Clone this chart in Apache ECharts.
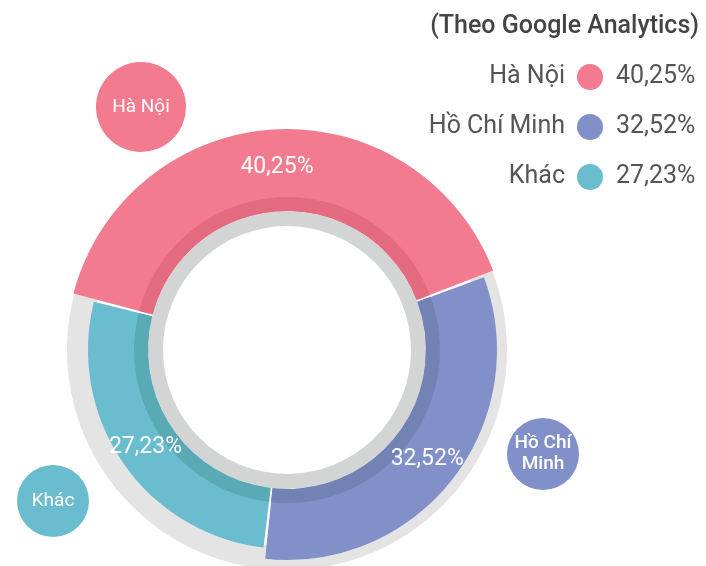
<!DOCTYPE html>
<html>
<head>
<meta charset="utf-8">
<script src="https://cdn.jsdelivr.net/npm/echarts@6/dist/echarts.min.js"></script>
<style>
  html, body { margin: 0; padding: 0; background: #fff; }
  #chart-container { width: 706px; height: 566px; }
</style>
</head>
<body>
<div id="chart-container"></div>
<script>
// data
const regions = ["Hà Nội", "Hồ Chí Minh", "Khác"];
const shares = [40.25, 32.52, 27.23];
const bubbleLabels = ["Hà Nội", "Hồ Chí\nMinh", "Khác"];
const sourceNote = "(Theo Google Analytics)";

// styles / layout
const colors = ["#f27b8f", "#8190c8", "#6abdcf"];
const darkColors = ["#e46a80", "#7282b4", "#59aab5"];
const outerRadius = [221, 210, 199];
const bubblePos = [[141, 107], [543, 454], [53, 501]];
const bubbleSize = [90, 72, 72];
const CENTER = [287, 350];
const START = 165.6;
const PAD = 0.8;
const FONT = "Roboto, sans-serif";

function fmt(v) {
  return v.toFixed(2).replace(".", ",") + "%";
}

function ring(radius, color) {
  return {
    type: "pie",
    silent: true,
    center: CENTER,
    radius: radius,
    label: { show: false },
    labelLine: { show: false },
    data: [{ value: 1, itemStyle: { color: color } }],
  };
}

// one pie per slice so each slice gets its own outer radius
const sliceSeries = regions.map((name, i) => ({
  type: "pie",
  silent: true,
  center: CENTER,
  radius: [139, outerRadius[i]],
  startAngle: START,
  padAngle: PAD,
  avoidLabelOverlap: false,
  labelLine: { show: false },
  data: regions.map((n, j) => ({
    name: n,
    value: shares[j],
    itemStyle: { color: j === i ? colors[j] : "transparent" },
    label: {
      show: j === i,
      position: "inside",
      formatter: (p) => fmt(p.value),
      color: "#fff",
      fontSize: 23,
      fontFamily: FONT,
    },
  })),
}));

// darker inner band, also carries the round name bubbles
const bandSeries = {
  type: "pie",
  silent: true,
  center: CENTER,
  radius: [139, 153],
  startAngle: START,
  padAngle: PAD,
  avoidLabelOverlap: false,
  labelLine: { show: false },
  data: regions.map((n, j) => {
    const lines = bubbleLabels[j].split("\n").length;
    return {
      name: n,
      value: shares[j],
      itemStyle: { color: darkColors[j] },
      label: {
        show: true,
        position: "center",
        formatter: bubbleLabels[j],
        color: "#fff",
        fontSize: 19,
        fontWeight: j === 1 ? 500 : "normal",
        fontFamily: FONT,
        lineHeight: 21,
        width: bubbleSize[j],
        align: "center",
        padding: [(bubbleSize[j] - 21 * lines) / 2, 0],
        backgroundColor: colors[j],
        borderRadius: bubbleSize[j] / 2,
      },
    };
  }),
  labelLayout: (p) => ({
    x: bubblePos[p.dataIndex][0],
    y: bubblePos[p.dataIndex][1],
    align: "center",
    verticalAlign: "middle",
  }),
};

const legendText = { fontSize: 25, color: "#555", fontFamily: FONT };

const chart = echarts.init(document.getElementById("chart-container"));
chart.setOption({
  animation: false,
  title: {
    text: sourceNote,
    right: 7,
    top: 14,
    padding: 0,
    textStyle: { fontSize: 25, fontWeight: 500, color: "#444", fontFamily: FONT },
  },
  legend: [
    {
      orient: "vertical",
      right: 103,
      top: 64,
      padding: 0,
      align: "right",
      icon: "circle",
      itemWidth: 40,
      itemHeight: 26,
      itemGap: 24,
      selectedMode: false,
      textStyle: legendText,
      data: regions.map((n, i) => ({ name: n, itemStyle: { color: colors[i] } })),
    },
    {
      // values column, icon kept invisible so rows match the first legend
      orient: "vertical",
      left: 585,
      top: 64,
      padding: 0,
      align: "left",
      icon: "circle",
      itemWidth: 26,
      itemHeight: 26,
      itemGap: 24,
      selectedMode: false,
      formatter: (n) => fmt(shares[regions.indexOf(n)]),
      textStyle: legendText,
      data: regions.map((n) => ({ name: n, itemStyle: { color: "transparent" } })),
    },
  ],
  series: [ring([196, 220], "#e4e4e4"), ring([124, 139], "#d3d5d4")]
    .concat(sliceSeries)
    .concat([bandSeries]),
});
</script>
</body>
</html>
